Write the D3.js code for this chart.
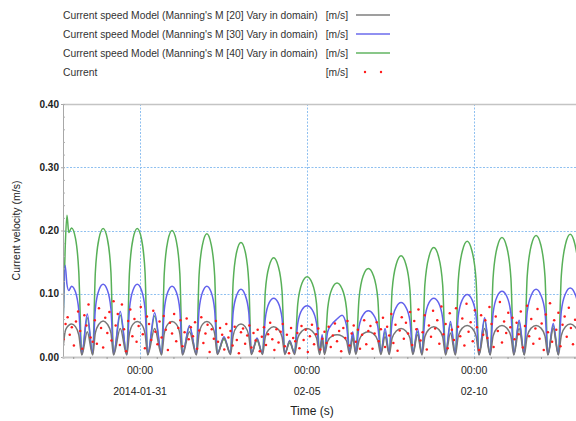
<!DOCTYPE html>
<html>
<head>
<meta charset="utf-8">
<script src="https://cdn.jsdelivr.net/npm/d3@7"></script>
<style>
  body { margin: 0; background: #ffffff; }
  svg { display: block; font-family: "Liberation Sans", Arial, sans-serif; }
</style>
</head>
<body>
<svg id="chart" width="576" height="421"></svg>
<script>
// ---- Data -------------------------------------------------------------
// Model key times, in hours after 2014-01-28 17:00 (UTC)
const keyHours = [
  -0.5, 1.2, 2.5, 3.8, 5.8, 8.6, 11, 13.2, 17.1,
  21, 22.9, 25.5, 28.5, 31.5, 34.1, 36, 40.8,
  45.5, 47.4, 50, 53, 56, 58.6, 60.5, 65.5,
  70.5, 72.4, 75, 78, 81, 83.6, 85.5, 90.5,
  95.5, 97.4, 100, 103, 106, 108.6, 110.5, 115.3,
  120, 121.9, 124.5, 127.5, 130.5, 133.1, 135, 139,
  143, 145, 147.8, 151, 154.2, 157, 159, 162.5,
  166, 168.3, 171.4, 175, 178.6, 181.8, 184, 185.8,
  187.5, 189.8, 192.9, 196.5, 200.1, 203.3, 205.5, 207.8,
  210, 212.3, 215.4, 219, 222.6, 225.8, 228, 231,
  234, 236.1, 239.1, 242.5, 245.9, 248.9, 251, 254.3,
  257.5, 259.6, 262.6, 266, 269.4, 272.4, 274.5, 278,
  281.5, 283.6, 286.6, 290, 293.4, 296.4, 298.5, 302.5,
  306.5, 308.6, 311.6, 315, 318.4, 321.4, 323.5, 327.3,
  331, 333.1, 336.1, 339.5, 342.9, 345.9, 348, 351.8,
  355.5, 357.6, 360.6, 364, 367.4, 370.4, 372.5
];

// Modelled current speed [m/s], Manning's M = 20
const speedM20 = [
  0.01, 0.04, 0.047, 0.05, 0.052, 0.048, 0.035, 0.003, 0.04,
  0.003, 0.038, 0.052, 0.057, 0.052, 0.038, 0.003, 0.045,
  0.003, 0.037, 0.052, 0.056, 0.052, 0.037, 0.003, 0.045,
  0.003, 0.037, 0.052, 0.056, 0.052, 0.037, 0.003, 0.04,
  0.003, 0.037, 0.052, 0.056, 0.052, 0.037, 0.004, 0.03,
  0.004, 0.034, 0.048, 0.052, 0.048, 0.034, 0.004, 0.028,
  0.004, 0.032, 0.044, 0.048, 0.044, 0.032, 0.004, 0.025,
  0.004, 0.03, 0.041, 0.045, 0.041, 0.03, 0.004, 0.028,
  0.004, 0.025, 0.033, 0.035, 0.033, 0.026, 0.004, 0.03,
  0.004, 0.026, 0.037, 0.04, 0.037, 0.026, 0.004, 0.032,
  0.004, 0.03, 0.041, 0.045, 0.041, 0.03, 0.004, 0.035,
  0.003, 0.032, 0.044, 0.048, 0.044, 0.032, 0.003, 0.038,
  0.003, 0.033, 0.046, 0.05, 0.046, 0.033, 0.003, 0.045,
  0.003, 0.033, 0.046, 0.05, 0.046, 0.033, 0.003, 0.045,
  0.003, 0.033, 0.046, 0.05, 0.046, 0.033, 0.003, 0.045,
  0.003, 0.034, 0.048, 0.052, 0.048, 0.034, 0.003
];

// Modelled current speed [m/s], Manning's M = 30
const speedM30 = [
  0.02, 0.145, 0.115, 0.105, 0.112, 0.103, 0.074, 0.004, 0.068,
  0.005, 0.076, 0.106, 0.115, 0.106, 0.076, 0.004, 0.072,
  0.004, 0.076, 0.106, 0.115, 0.106, 0.076, 0.005, 0.07,
  0.005, 0.074, 0.103, 0.112, 0.103, 0.074, 0.004, 0.05,
  0.004, 0.074, 0.103, 0.112, 0.103, 0.074, 0.005, 0.032,
  0.005, 0.071, 0.098, 0.107, 0.098, 0.071, 0.005, 0.03,
  0.005, 0.061, 0.086, 0.093, 0.086, 0.061, 0.005, 0.026,
  0.006, 0.053, 0.075, 0.081, 0.075, 0.053, 0.006, 0.035,
  0.006, 0.04, 0.052, 0.06, 0.066, 0.05, 0.006, 0.04,
  0.006, 0.048, 0.067, 0.073, 0.067, 0.048, 0.006, 0.045,
  0.005, 0.057, 0.079, 0.086, 0.079, 0.057, 0.005, 0.045,
  0.005, 0.061, 0.086, 0.093, 0.086, 0.061, 0.005, 0.056,
  0.004, 0.065, 0.091, 0.099, 0.091, 0.065, 0.004, 0.062,
  0.004, 0.069, 0.096, 0.104, 0.096, 0.069, 0.004, 0.058,
  0.004, 0.071, 0.098, 0.107, 0.098, 0.071, 0.004, 0.053,
  0.004, 0.072, 0.1, 0.109, 0.1, 0.072, 0.004
];

// Modelled current speed [m/s], Manning's M = 40
const speedM40 = [
  0.03, 0.17, 0.224, 0.197, 0.204, 0.188, 0.135, 0.005, 0.062,
  0.004, 0.134, 0.187, 0.203, 0.187, 0.134, 0.005, 0.066,
  0.005, 0.134, 0.187, 0.203, 0.187, 0.134, 0.004, 0.065,
  0.004, 0.132, 0.184, 0.2, 0.184, 0.132, 0.005, 0.048,
  0.005, 0.129, 0.179, 0.195, 0.179, 0.129, 0.006, 0.028,
  0.006, 0.119, 0.167, 0.181, 0.167, 0.119, 0.006, 0.026,
  0.006, 0.104, 0.144, 0.157, 0.144, 0.104, 0.006, 0.022,
  0.008, 0.084, 0.117, 0.127, 0.117, 0.084, 0.008, 0.03,
  0.008, 0.077, 0.108, 0.117, 0.108, 0.077, 0.008, 0.035,
  0.007, 0.092, 0.129, 0.14, 0.129, 0.092, 0.007, 0.04,
  0.006, 0.106, 0.147, 0.16, 0.147, 0.106, 0.006, 0.04,
  0.005, 0.114, 0.159, 0.173, 0.159, 0.114, 0.005, 0.052,
  0.005, 0.121, 0.168, 0.183, 0.168, 0.121, 0.005, 0.058,
  0.004, 0.125, 0.174, 0.189, 0.174, 0.125, 0.005, 0.055,
  0.004, 0.127, 0.177, 0.192, 0.177, 0.127, 0.004, 0.05,
  0.004, 0.128, 0.178, 0.194, 0.178, 0.128, 0.005
];

// Measured current speed [m/s], one reading every 1.5 hours from 2014-01-28 17:00
const obsStepHours = 1.5;
const obsSpeed = [
  0.028, 0.052, 0.063, 0.035, 0.047, 0.018, 0.056, 0.072, 0.041, 0.013, 0.066, 0.05, 0.083, 0.031, 0.024, 0.058,
  0.021, 0.077, 0.046, 0.015, 0.062, 0.038, 0.071, 0.026, 0.088, 0.05, 0.068, 0.019, 0.083, 0.044, 0.009, 0.057,
  0.075, 0.033, 0.06, 0.024, 0.049, 0.079, 0.036, 0.014, 0.064, 0.052, 0.027, 0.073, 0.04, 0.02, 0.056, 0.031,
  0.065, 0.043, 0.011, 0.054, 0.037, 0.068, 0.025, 0.046, 0.058, 0.017, 0.039, 0.061, 0.028, 0.047, 0.033, 0.055,
  0.013, 0.042, 0.063, 0.022, 0.037, 0.051, 0.008, 0.044, 0.029, 0.057, 0.024, 0.046, 0.035, 0.012, 0.052, 0.031,
  0.041, 0.018, 0.048, 0.027, 0.006, 0.039, 0.045, 0.021, 0.034, 0.05, 0.015, 0.038, 0.026, 0.043, 0.009, 0.032,
  0.047, 0.019, 0.036, 0.054, 0.028, 0.011, 0.044, 0.023, 0.04, 0.052, 0.017, 0.035, 0.006, 0.046, 0.03, 0.025,
  0.038, 0.014, 0.049, 0.027, 0.043, 0.008, 0.033, 0.051, 0.02, 0.036, 0.045, 0.012, 0.029, 0.04, 0.022, 0.048,
  0.016, 0.034, 0.053, 0.025, 0.041, 0.009, 0.046, 0.03, 0.057, 0.018, 0.037, 0.05, 0.024, 0.043, 0.013, 0.035,
  0.058, 0.02, 0.041, 0.049, 0.013, 0.037, 0.055, 0.025, 0.044, 0.062, 0.016, 0.048, 0.034, 0.068, 0.022, 0.051,
  0.01, 0.042, 0.063, 0.029, 0.054, 0.037, 0.071, 0.019, 0.057, 0.044, 0.075, 0.026, 0.039, 0.066, 0.012, 0.05,
  0.032, 0.073, 0.045, 0.058, 0.021, 0.08, 0.036, 0.052, 0.014, 0.069, 0.043, 0.027, 0.077, 0.048, 0.033, 0.061,
  0.018, 0.084, 0.04, 0.055, 0.025, 0.074, 0.047, 0.011, 0.066, 0.035, 0.058, 0.03, 0.079, 0.052, 0.016, 0.064,
  0.041, 0.087, 0.023, 0.056, 0.038, 0.07, 0.047, 0.062, 0.028, 0.054, 0.036, 0.072, 0.015, 0.049, 0.081, 0.033,
  0.06, 0.021, 0.045, 0.076, 0.029, 0.053, 0.011, 0.067, 0.039, 0.085, 0.024, 0.058, 0.043, 0.07, 0.017, 0.051,
  0.064, 0.032, 0.078, 0.046, 0.02, 0.059
];

const legendNames = [
  "Current speed Model (Manning's M [20] Vary in domain)",
  "Current speed Model (Manning's M [30] Vary in domain)",
  "Current speed Model (Manning's M [40] Vary in domain)",
  "Current"
];
const legendUnit = "[m/s]";

const yTicks = [0, 0.1, 0.2, 0.3, 0.4];
const xTickDays = ["2014-01-31", "2014-02-05", "2014-02-10"];
const xTickDayLabels = ["2014-01-31", "02-05", "02-10"];
const xTickTimeLabel = "00:00";
const yTitle = "Current velocity (m/s)";
const xTitle = "Time (s)";

// ---- Layout ------------------------------------------------------------
const plot = { left: 63, right: 576, top: 104, bottom: 357 };
const startMs = Date.UTC(2014, 0, 28, 17, 0);
const hourDate = h => new Date(startMs + h * 3600e3);

const svg = d3.select("#chart");

const x = d3.scaleUtc()
  .domain([new Date(Date.UTC(2014, 0, 28, 16, 40)), new Date(Date.UTC(2014, 1, 13, 1, 10))])
  .range([plot.left, plot.right]);
const y = d3.scaleLinear().domain([0, 0.4]).range([plot.bottom, plot.top]);

const colors = ["#777777", "#6262ec", "#58b058"];
const obsColor = "#ff1a1a";

// ---- Legend ------------------------------------------------------------
const legendRowsY = [15, 34, 53, 72];
const legend = svg.append("g").attr("font-size", 10.3).attr("fill", "#333");
legendNames.forEach((name, i) => {
  const ly = legendRowsY[i];
  legend.append("text").attr("x", 63).attr("y", ly + 3.5).text(name);
  legend.append("text").attr("x", 348).attr("y", ly + 3.5)
    .attr("text-anchor", "end").text(legendUnit);
  if (i < 3) {
    legend.append("line").attr("x1", 356).attr("x2", 390)
      .attr("y1", ly).attr("y2", ly)
      .attr("stroke", colors[i]).attr("stroke-width", 1.8).attr("opacity", 0.7);
  } else {
    [365, 381].forEach(cx => legend.append("circle")
      .attr("cx", cx).attr("cy", ly).attr("r", 1.2)
      .attr("fill", obsColor));
  }
});

// ---- Grid --------------------------------------------------------------
const grid = svg.append("g").attr("stroke", "#8fc0f0").attr("stroke-width", 1)
  .attr("stroke-dasharray", "2,1.5");
[0.1, 0.2, 0.3].forEach(v => grid.append("line")
  .attr("x1", plot.left).attr("x2", plot.right)
  .attr("y1", Math.round(y(v)) + 0.5).attr("y2", Math.round(y(v)) + 0.5));
const tickDates = xTickDays.map(s => new Date(s + "T00:00:00Z"));
tickDates.forEach(d => grid.append("line")
  .attr("x1", Math.round(x(d)) + 0.5).attr("x2", Math.round(x(d)) + 0.5)
  .attr("y1", plot.top).attr("y2", plot.bottom));

// ---- Series ------------------------------------------------------------
svg.append("defs").append("clipPath").attr("id", "plotClip")
  .append("rect").attr("x", plot.left).attr("y", plot.top - 2)
  .attr("width", plot.right - plot.left).attr("height", plot.bottom - plot.top + 2);

const line = d3.line()
  .x(d => x(d.date)).y(d => y(d.v))
  .curve(d3.curveMonotoneX);

const plotG = svg.append("g").attr("clip-path", "url(#plotClip)");
const seriesValues = [speedM40, speedM30, speedM20];
const seriesColors = [colors[2], colors[1], colors[0]];
seriesValues.forEach((vals, i) => {
  const pts = keyHours.map((h, j) => ({ date: hourDate(h), v: vals[j] }));
  plotG.append("path").datum(pts)
    .attr("fill", "none")
    .attr("stroke", seriesColors[i])
    .attr("stroke-width", 1.5)
    .attr("stroke-linejoin", "round")
    .attr("d", line);
});

const obs = obsSpeed.map((v, i) => ({ date: hourDate(i * obsStepHours), v }));
plotG.selectAll("circle.obs").data(obs).join("circle")
  .attr("class", "obs")
  .attr("cx", d => x(d.date)).attr("cy", d => y(d.v))
  .attr("r", 1.25)
  .attr("fill", obsColor);

// ---- Axes --------------------------------------------------------------
const frame = svg.append("g");
frame.append("line").attr("x1", plot.left).attr("x2", plot.right)
  .attr("y1", plot.top + 0.5).attr("y2", plot.top + 0.5)
  .attr("stroke", "#c4c4c4").attr("stroke-width", 1.5);

const yAxis = svg.append("g").attr("transform", `translate(${plot.left},0)`)
  .call(d3.axisLeft(y).tickValues(yTicks).tickFormat(d3.format(".2f")).tickSize(2).tickPadding(2));
yAxis.select(".domain").attr("stroke", "#a8a8a8");
yAxis.selectAll(".tick line").attr("stroke", "#a8a8a8");
yAxis.selectAll("text").attr("font-size", 10).attr("fill", "#222")
  .attr("font-family", "Liberation Sans, Arial, sans-serif").attr("font-weight", "bold");

const yMinor = svg.append("g").attr("transform", `translate(${plot.left},0)`)
  .call(d3.axisRight(y).tickValues(d3.range(0, 0.401, 0.02)).tickSize(2).tickFormat(""));
yMinor.select(".domain").remove();
yMinor.selectAll(".tick line").attr("stroke", "#b0b0b0");

const xAxis = svg.append("g").attr("transform", `translate(0,${plot.bottom})`)
  .call(d3.axisBottom(x).ticks(d3.utcHour.every(12)).tickSize(2).tickFormat(""));
xAxis.select(".domain").attr("stroke", "#c8c8c8").attr("stroke-width", 2);
xAxis.selectAll(".tick line").attr("stroke", "#999");

const xLabels = svg.append("g").attr("font-size", 10.5).attr("fill", "#222")
  .attr("text-anchor", "middle");
tickDates.forEach((d, i) => {
  const cx = x(d);
  xLabels.append("text").attr("x", cx).attr("y", 374).text(xTickTimeLabel);
  xLabels.append("text").attr("x", cx).attr("y", 395).text(xTickDayLabels[i]);
});

svg.append("text").attr("x", 312).attr("y", 415)
  .attr("text-anchor", "middle").attr("font-size", 12).attr("fill", "#222")
  .text(xTitle);

svg.append("text").attr("transform", `translate(20,${(plot.top + plot.bottom) / 2}) rotate(-90)`)
  .attr("text-anchor", "middle").attr("font-size", 10.5).attr("fill", "#222")
  .text(yTitle);
</script>
</body>
</html>
